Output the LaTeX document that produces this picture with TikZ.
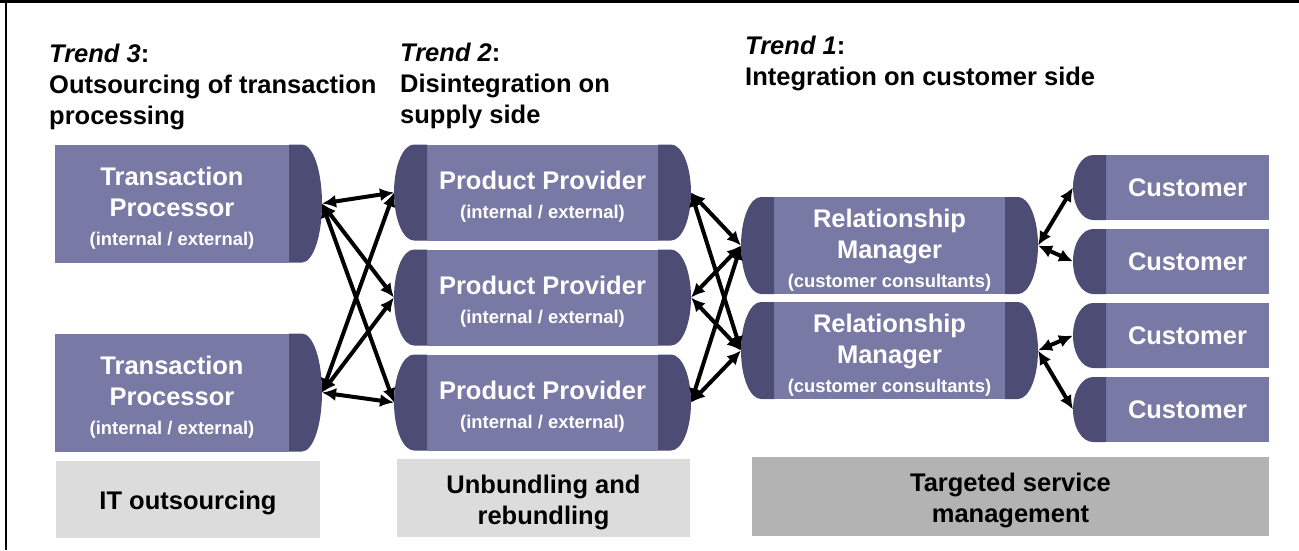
\documentclass[tikz,border=0pt]{standalone}
\usepackage{fontspec}
\setmainfont{Liberation Sans}
\usepackage{tikz}
\usetikzlibrary{arrows.meta, positioning, calc}
\definecolor{boxfill}{RGB}{121,121,166}
\definecolor{capfill}{RGB}{76,76,116}
\definecolor{lightgrey}{RGB}{220,220,220}
\definecolor{midgrey}{RGB}{179,179,179}
\newcommand{\bigfont}{\fontsize{25.5}{31}\selectfont\bfseries}
\newcommand{\smallfont}{\fontsize{18.4}{22}\selectfont}
\newcommand{\toprule}{\rule{0pt}{27pt}}
\newcommand{\rightcap}[1]{%
    \coordinate (#1-rt) at ([xshift=13pt]#1.north east);
    \coordinate (#1-rtip) at ([xshift=33pt]#1.east);
    \coordinate (#1-rb) at ([xshift=13pt]#1.south east);
    \fill[capfill] (#1.north east) -- (#1-rt)
        .. controls ($(#1-rt)!0.552!(#1-rt -| #1-rtip)$) and ($(#1-rtip)!0.552!(#1-rt -| #1-rtip)$) .. (#1-rtip)
        .. controls ($(#1-rtip)!0.552!(#1-rb -| #1-rtip)$) and ($(#1-rb)!0.552!(#1-rb -| #1-rtip)$) .. (#1-rb)
        -- (#1.south east) -- cycle;}
\newcommand{\leftcap}[1]{%
    \coordinate (#1-lt) at ([xshift=-13pt]#1.north west);
    \coordinate (#1-ltip) at ([xshift=-33pt]#1.west);
    \coordinate (#1-lb) at ([xshift=-13pt]#1.south west);
    \fill[capfill] (#1.north west) -- (#1-lt)
        .. controls ($(#1-lt)!0.552!(#1-lt -| #1-ltip)$) and ($(#1-ltip)!0.552!(#1-lt -| #1-ltip)$) .. (#1-ltip)
        .. controls ($(#1-ltip)!0.552!(#1-lb -| #1-ltip)$) and ($(#1-lb)!0.552!(#1-lb -| #1-ltip)$) .. (#1-lb)
        -- (#1.south west) -- cycle;}
\tikzset{
    unit/.style={rectangle, fill=boxfill, text=white, font=\bigfont, align=center, inner sep=0pt, outer sep=0pt},
    tproc/.style={unit, minimum width=234pt, minimum height=118pt},
    prov/.style={unit, minimum width=231pt, minimum height=96pt},
    relm/.style={unit, minimum width=231pt, minimum height=97pt},
    cust/.style={unit, minimum width=163pt, minimum height=65pt},
    band/.style={rectangle, font=\fontsize{25.5}{31}\selectfont\bfseries, align=center, inner sep=0pt, outer sep=0pt},
    title/.style={anchor=north west, font=\fontsize{25.5}{31}\selectfont\bfseries, align=left, inner sep=0pt},
    link/.style={line width=4pt, {Latex[length=14pt,width=13pt]}-{Latex[length=14pt,width=13pt]}}
}

\begin{document}
\begin{tikzpicture}[x=1pt, y=-1pt, node distance=9pt]
    \useasboundingbox (0,0) rectangle (1299,550);
    \draw[line width=3.4pt] (0,1.7) -- (1299,1.7);
    \draw[line width=2.4pt] (6.2,0) -- (6.2,550);

    % Trends
    \node (trend3) [title] at (49,44) {\textit{Trend 3}:\\Outsourcing of transaction\\processing};
    \node (trend2) [title] at (400,43) {\textit{Trend 2}:\\Disintegration on\\supply side};
    \node (trend1) [title] at (745,36) {\textit{Trend 1}:\\Integration on customer side};

    % Nodes
    \node (tp1) [tproc] at (172,203.5) {\toprule Transaction\\Processor\\[-2pt]{\smallfont (internal / external)}};
    \node (tp2) [tproc] at (172,392.5) {\toprule Transaction\\Processor\\[-2pt]{\smallfont (internal / external)}};
    \node (pp1) [prov] at (542.5,192.5) {\toprule Product Provider\\[-2pt]{\smallfont (internal / external)}};
    \node (pp2) [prov, below=of pp1] {\toprule Product Provider\\[-2pt]{\smallfont (internal / external)}};
    \node (pp3) [prov, below=of pp2] {\toprule Product Provider\\[-2pt]{\smallfont (internal / external)}};
    \node (rm1) [relm] at (889.5,245.5) {\toprule Relationship\\Manager\\[-2pt]{\smallfont (customer consultants)}};
    \node (rm2) [relm, below=8pt of rm1] {\toprule Relationship\\Manager\\[-2pt]{\smallfont (customer consultants)}};
    \node (c1) [cust] at (1187.5,187.5) {Customer};
    \node (c2) [cust, below=of c1] {Customer};
    \node (c3) [cust, below=of c2] {Customer};
    \node (c4) [cust, below=of c3] {Customer};

    % Caps
    \rightcap{tp1} \rightcap{tp2}
    \leftcap{pp1} \rightcap{pp1}
    \leftcap{pp2} \rightcap{pp2}
    \leftcap{pp3} \rightcap{pp3}
    \leftcap{rm1} \rightcap{rm1}
    \leftcap{rm2} \rightcap{rm2}
    \leftcap{c1} \leftcap{c2} \leftcap{c3} \leftcap{c4}

    % Bands
    \node (itout) [band, fill=lightgrey, minimum width=264pt, minimum height=77pt] at (188,499.5) {\rule{0pt}{25pt}IT outsourcing};
    \node (unbund) [band, fill=lightgrey, minimum width=293pt, minimum height=78pt] at (543.5,498) {\toprule Unbundling and\\rebundling};
    \node (target) [band, fill=midgrey, minimum width=517pt, minimum height=79pt] at (1010.5,496.5) {\toprule Targeted service\\management};

    % Arrows
    \draw [link] (tp1-rtip) -- (pp1-ltip);
    \draw [link] (tp1-rtip) -- (pp2-ltip);
    \draw [link] (tp1-rtip) -- (pp3-ltip);
    \draw [link] (tp2-rtip) -- (pp1-ltip);
    \draw [link] (tp2-rtip) -- (pp2-ltip);
    \draw [link] (tp2-rtip) -- (pp3-ltip);
    \draw [link] (pp1-rtip) -- (rm1-ltip);
    \draw [link] (pp1-rtip) -- (rm2-ltip);
    \draw [link] (pp2-rtip) -- (rm1-ltip);
    \draw [link] (pp2-rtip) -- (rm2-ltip);
    \draw [link] (pp3-rtip) -- (rm1-ltip);
    \draw [link] (pp3-rtip) -- (rm2-ltip);
    \draw [link] (rm1-rtip) -- (c1-ltip);
    \draw [link] (rm1-rtip) -- (c2-ltip);
    \draw [link] (rm2-rtip) -- (c3-ltip);
    \draw [link] (rm2-rtip) -- (c4-ltip);
\end{tikzpicture}
\end{document}
